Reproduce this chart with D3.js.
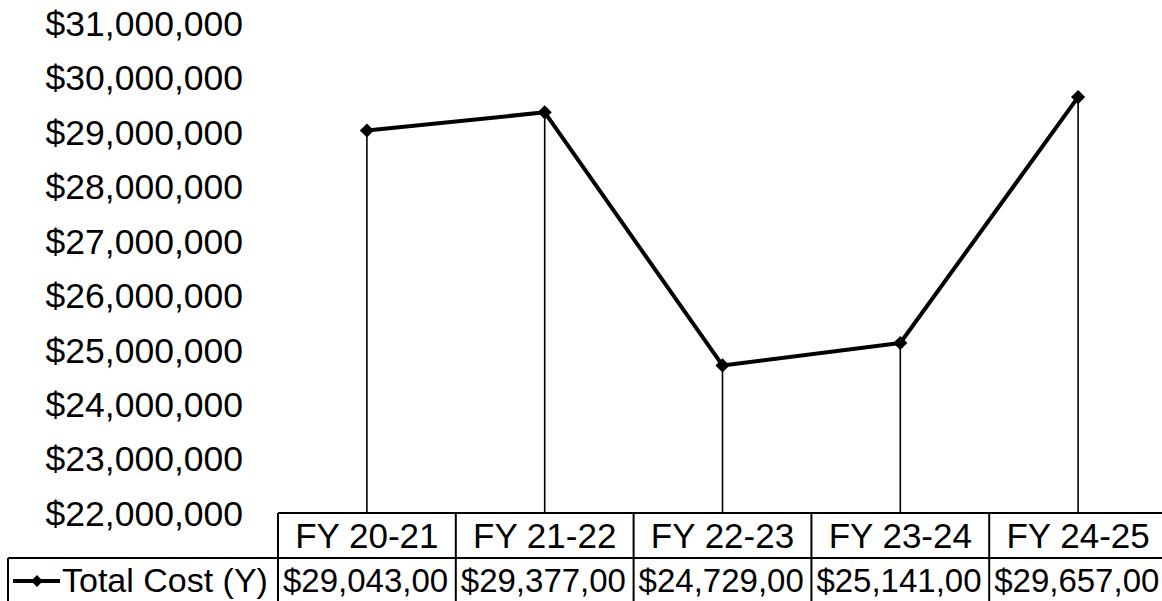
<!DOCTYPE html>
<html>
<head>
<meta charset="utf-8">
<script src="https://cdn.jsdelivr.net/npm/d3@7"></script>
<style>
  html, body { margin: 0; padding: 0; background: #fff; }
  svg { display: block; }
  text { font-family: "Liberation Sans", Arial, sans-serif; fill: #000; }
</style>
</head>
<body>
<svg id="chart" width="1162" height="601"></svg>
<script>
// ---- data ----
const categories = ["FY 20-21", "FY 21-22", "FY 22-23", "FY 23-24", "FY 24-25"];
const totalCost = [29043000, 29377000, 24729000, 25141000, 29657000];
const seriesName = "Total Cost (Y)";
const yTicks = [22000000, 23000000, 24000000, 25000000, 26000000, 27000000, 28000000, 29000000, 30000000, 31000000];

// ---- layout ----
const W = 1162, H = 601;
const axisFont = 35.5, headFont = 35, valFont = 33, legFont = 34;
const plotLeft = 278, colW = 177.8;
const plotRight = plotLeft + colW * categories.length;
const yTop = 24, yBottom = 514;
const tableTop = 513, headerBottom = 558, tableBottom = 640;
const legendLeft = 8;

const svg = d3.select("#chart");

const x = d3.scaleBand().domain(categories).range([plotLeft, plotRight]).padding(0);
const y = d3.scaleLinear().domain([22000000, 31000000]).range([yBottom, yTop]);

// ---- y axis labels (no axis line) ----
const yAxis = d3.axisLeft(y).tickValues(yTicks).tickSize(0).tickPadding(0)
  .tickFormat(d => "$" + d3.format(",")(d));
const gy = svg.append("g").attr("transform", "translate(243,0)").call(yAxis);
gy.select(".domain").remove();
gy.selectAll("text").style("font-size", axisFont + "px")
  .style("font-family", '"Liberation Sans", Arial, sans-serif').attr("fill", "#000");

// ---- drop lines ----
svg.append("g").selectAll("line").data(categories).join("line")
  .attr("x1", d => x(d) + x.bandwidth() / 2)
  .attr("x2", d => x(d) + x.bandwidth() / 2)
  .attr("y1", (d, i) => y(totalCost[i]))
  .attr("y2", tableTop)
  .attr("stroke", "#000").attr("stroke-width", 1.6);

// ---- line ----
const line = d3.line()
  .x((d, i) => x(categories[i]) + x.bandwidth() / 2)
  .y(d => y(d));
svg.append("path").datum(totalCost)
  .attr("d", line).attr("fill", "none").attr("stroke", "#000")
  .attr("stroke-width", 4).attr("stroke-linejoin", "round");

// ---- markers ----
const diamond = d3.symbol().type(d3.symbolSquare).size(100);
svg.append("g").selectAll("path").data(totalCost).join("path")
  .attr("d", diamond)
  .attr("transform", (d, i) => `translate(${x(categories[i]) + x.bandwidth() / 2},${y(d)}) rotate(45)`)
  .attr("fill", "#000");

// ---- data table ----
const tbl = svg.append("g");
const bw = 2;
tbl.append("line").attr("x1", plotLeft).attr("x2", plotRight).attr("y1", tableTop).attr("y2", tableTop)
  .attr("stroke", "#000").attr("stroke-width", bw);
tbl.append("line").attr("x1", legendLeft).attr("x2", plotRight).attr("y1", headerBottom).attr("y2", headerBottom)
  .attr("stroke", "#000").attr("stroke-width", bw);
const colEdges = categories.map(c => x(c)).concat([plotRight]);
tbl.selectAll("line.v").data(colEdges).join("line").attr("class", "v")
  .attr("x1", d => d).attr("x2", d => d).attr("y1", tableTop).attr("y2", tableBottom)
  .attr("stroke", "#000").attr("stroke-width", bw);
tbl.append("line").attr("x1", legendLeft).attr("x2", legendLeft).attr("y1", headerBottom).attr("y2", tableBottom)
  .attr("stroke", "#000").attr("stroke-width", bw);

// header labels
tbl.selectAll("text.h").data(categories).join("text").attr("class", "h")
  .attr("x", d => x(d) + x.bandwidth() / 2).attr("y", 548)
  .attr("text-anchor", "middle").style("font-size", headFont + "px")
  .text(d => d);

// value cells (left aligned, truncated to fit like a spreadsheet cell)
const pad = 5;
const fmt = d => "$" + d3.format(",")(d);
tbl.selectAll("text.v").data(totalCost).join("text").attr("class", "v")
  .attr("x", (d, i) => x(categories[i]) + pad).attr("y", 592)
  .style("font-size", valFont + "px")
  .text(d => fmt(d))
  .each(function () {
    const el = d3.select(this);
    let t = el.text();
    const maxW = x.bandwidth() - pad - 2;
    while (t.length > 0 && this.getComputedTextLength() > maxW) {
      t = t.slice(0, -1);
      el.text(t);
    }
  });

// legend key in table
const ly = 581;
tbl.append("line").attr("x1", 13).attr("x2", 60).attr("y1", ly).attr("y2", ly)
  .attr("stroke", "#000").attr("stroke-width", 4);
tbl.append("path").attr("d", d3.symbol().type(d3.symbolSquare).size(70))
  .attr("transform", `translate(37,${ly}) rotate(45)`).attr("fill", "#000");
tbl.append("text").attr("x", 62).attr("y", 592).style("font-size", legFont + "px").text(seriesName);
</script>
</body>
</html>
